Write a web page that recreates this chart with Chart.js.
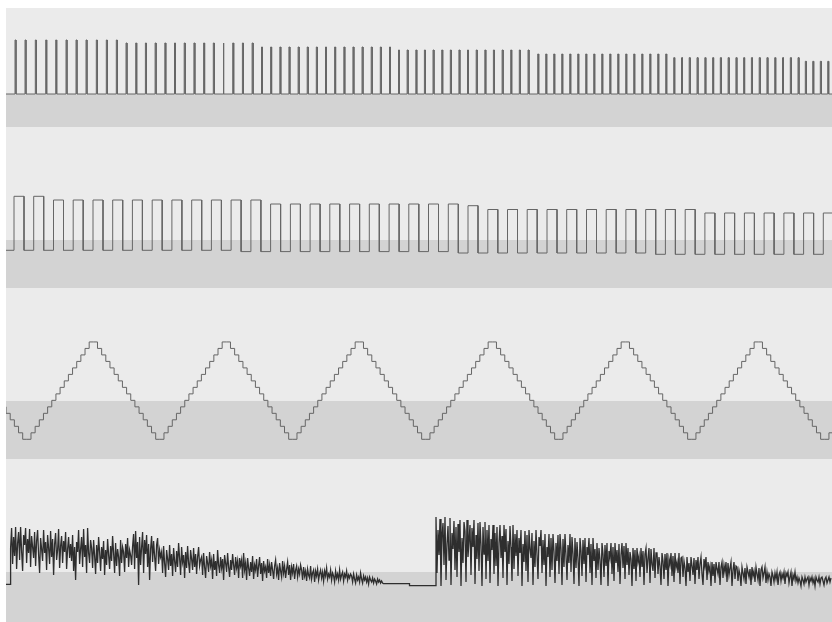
<!DOCTYPE html>
<html><head><meta charset="utf-8">
<script src="https://cdn.jsdelivr.net/npm/chart.js@4"></script>
<style>
html,body{margin:0;padding:0;background:#fff;}
#wrap{position:relative;width:832px;height:622px;overflow:hidden;background:#fff;}
#wrap canvas{position:absolute;left:6px;}
</style></head><body>
<div id="wrap">
<canvas id="c1" width="826" height="119" style="top:8px;width:826px;height:119px"></canvas>
<canvas id="c2" width="826" height="161" style="top:127px;width:826px;height:161px"></canvas>
<canvas id="c3" width="826" height="171" style="top:288px;width:826px;height:171px"></canvas>
<canvas id="c4" width="826" height="163" style="top:459px;width:826px;height:163px"></canvas>
</div>
<script>
// ---------- Lane 1: pulse train (pulse times and heights) ----------
const pulseTimes = [9,19,29.3,39.7,49.7,60,70,80,90.3,100.3,110.3,
 120,129.7,139.4,149.1,158.8,168.5,178.2,187.9,197.6,207.3,217,226.7,236.4,246.1,
 255.5,264.6,273.8,282.9,292.1,301.2,310.3,319.5,328.6,337.8,346.9,356,365.2,374.3,383.5,
 392.5,401.1,409.8,418.4,427,435.7,444.3,452.9,461.5,470.2,478.8,487.4,496.1,504.7,513.3,522,
 531.7,539.7,547.7,555.7,563.7,571.7,579.7,587.7,595.7,603.7,611.7,619.7,627.7,635.7,643.7,651.7,659.7,
 667.7,675.5,683.2,691,698.8,706.6,714.3,722.1,729.9,737.6,745.4,753.2,760.9,768.7,776.5,784.3,792,
 799.3,806.7,814.3,821.7];
const pulseHeights = [54,54,54,54,54,54,54,54,54,54,54,
 51,51,51,51,51,51,51,51,51,51,51,51,51,51,
 47,47,47,47,47,47,47,47,47,47,47,47,47,47,47,
 44,44,44,44,44,44,44,44,44,44,44,44,44,44,44,44,
 40,40,40,40,40,40,40,40,40,40,40,40,40,40,40,40,40,
 36.3,36.3,36.3,36.3,36.3,36.3,36.3,36.3,36.3,36.3,36.3,36.3,36.3,36.3,36.3,36.3,36.3,
 32.7,32.7,32.7,32.7];
const pulseWidth = 1;

// ---------- Lane 2: square wave (rise times, high and low levels per cycle) ----------
const sqRise = [8,27.7,47.5,67.2,87,106.7,126.4,146.2,165.9,185.7,205.4,225.1,244.9,264.6,284.4,304.1,
 323.8,343.6,363.3,383.1,402.8,422.5,442.3,462,481.8,501.5,521.2,541,560.7,580.5,600.2,619.9,639.7,
 659.4,679.2,698.9,718.6,738.4,758.1,777.9,797.6,817.3];
const sqHigh = [43.7,43.7,40,40,40,40,40,40,40,40,40,40,40,36,36,36,36,36,36,36,36,36,36,34.3,
 30.5,30.5,30.5,30.5,30.5,30.5,30.5,30.5,30.5,30.5,30.5,27,27,27,27,27,27,27];
const sqLow = [-10.3,-10.3,-10.3,-10.3,-10.3,-10.3,-10.3,-10.3,-10.3,-10.3,-10.3,
 -11.6,-11.6,-11.6,-11.6,-11.6,-11.6,-11.6,-11.6,-11.6,-11.6,-11.6,
 -13,-13,-13,-13,-13,-13,-13,-13,-13,-13,
 -14.3,-14.3,-14.3,-14.3,-14.3,-14.3,-14.3,-14.3,-14.3,-14.3];
const sqLead = -10.3;
const sqHighDuration = 10;

// ---------- Lane 3: stepped triangle (sample-and-hold levels) ----------
const triStart = -4.1;
const triSampleWidth = 4.156;
const triLevels = [5,4,3,2,1,
 0,0,1,2,3,4,5,6,7,8,9,10,11,12,13,14,15,15,14,13,12,11,10,9,8,7,6,5,4,3,2,1,
 0,0,1,2,3,4,5,6,7,8,9,10,11,12,13,14,15,15,14,13,12,11,10,9,8,7,6,5,4,3,2,1,
 0,0,1,2,3,4,5,6,7,8,9,10,11,12,13,14,15,15,14,13,12,11,10,9,8,7,6,5,4,3,2,1,
 0,0,1,2,3,4,5,6,7,8,9,10,11,12,13,14,15,15,14,13,12,11,10,9,8,7,6,5,4,3,2,1,
 0,0,1,2,3,4,5,6,7,8,9,10,11,12,13,14,15,15,14,13,12,11,10,9,8,7,6,5,4,3,2,1,
 0,0,1,2,3,4,5,6,7,8,9,10,11,12,13,14,15,15,14,13,12,11,10,9,8,7,6,5,4,3,2,1,
 0,0,1];

// ---------- Lane 4: noise bursts ----------
const noiseStep = 1;
const noiseAStart = 4.6;
const noiseA = [
 37,57,21,48,29,58,16,42,53,25,58,34,14,50,40,57,22,46,32,56,18,49,38,
 27,53,19,44,55,30,12,47,36,24,55,32,43,15,50,37,21,54,28,46,10,41,52,25,35,56,17,39,49,22,44,33,53,16,36,48,27,41,
 24,50,14,38,5,43,33,55,21,36,48,18,56,28,40,12,57,32,22,45,
 37,17,45,29,11,40,22,48,33,14,38,26,44,10,35,20,46,30,16,39,24,49,32,12,42,19,36,28,9,45,22,38,33,13,41,27,47,18,35,30,20,39,
 51,16,54,27,43,0,48,20,38,53,12,45,31,50,18,41,5,36,49,23,44,29,14,40,47,21,35,28,
 33,12,39,22,8,35,26,15,40,19,31,9,37,24,13,34,18,42,27,10,38,23,30,7,33,17,39,22,12,35,26,15,37,18,31,11,28,38,19,25,
 28,10,32,18,7,29,22,13,33,19,25,6,31,15,24,9,35,20,12,28,17,26,5,30,22,13,32,18,8,25,15,31,20,10,28,17,24,7,27,19,
 25,7,32,15,22,5,27,17,9,23,13,29,6,20,15,26,8,19,28,11,22,4,24,14,18,7,26,12,20,9,23,15,6,19,25,11,17,5,22,14,8,24,12,19,7,16,23,10,20,5,18,12,21,6,15,19,8,16,11,20,
 15,5,18,9,14,4,16,10,7,19,6,12,15,3,14,9,16,5,11,15,7,13,4,14,9,17,6,11,8,15,5,12,9,3,14,7,11,5,15,6,10,13,4,11,8,14,5,10,7,11,
 9,3,11,6,2,10,5,8,3,12,6,2,9,5,8,3,7,1,8,5,3,7,2,6,4,1,6,3,5,2,4,2];
const noiseBStart = 430;
const noiseB = [
 68,12,55,30,66,-1,48,62,20,68,5,41,59,25,67,0,52,36,64,15,58,
 8,61,33,65,-1,47,22,63,54,3,65,28,44,60,10,57,38,65,1,50,26,62,
 14,63,40,-1,58,31,63,6,
 55,24,60,2,46,35,60,11,52,19,58,-1,42,60,27,49,7,60,33,56,0,44,21,59,38,4,60,16,51,29,
 55,9,47,32,55,-1,41,23,54,14,50,3,55,36,27,52,0,44,18,55,30,6,48,39,55,12,
 45,20,51,-1,38,28,51,8,47,15,51,33,2,42,24,50,11,51,36,0,46,18,51,29,5,40,22,51,13,48,31,1,
 47,17,43,26,-1,47,34,9,45,21,47,3,38,30,47,12,41,0,47,24,36,7,
 42,15,37,25,0,42,31,8,40,19,42,-1,34,27,42,11,38,4,42,22,35,13,41,1,30,42,17,39,6,42,
 20,37,10,33,26,-1,37,16,35,4,37,23,29,8,37,18,34,0,31,37,12,27,37,2,36,21,14,37,7,32,
 32,11,28,19,0,32,24,6,31,15,32,-1,26,20,32,9,29,3,32,17,23,12,32,1,27,
 28,8,24,17,-1,28,13,22,4,28,19,10,27,1,25,15,28,6,21,28,11,0,26,18,28,
 5,23,14,19,-1,23,9,21,2,23,16,11,23,0,18,23,7,20,13,23,3,22,10,17,23,-1,15,23,6,19,
 18,4,15,10,-1,18,12,6,17,1,18,13,8,16,0,18,9,14,3,18,11,5,17,-1,15,18,7,12,18,2,
 13,5,11,8,-1,13,9,3,12,6,13,0,10,13,4,11,7,13,1,12,9,13,2,8,13,-1,10,6,13,4,
 8,2,7,4,-1,8,5,1,8,3,6,8,0,7,4,8,2,6,-1,8,5,3,8,1,7,8,4,0,6,8,2,5,8,3,7];
// flat stretches of the noise trace: from, to, level
const noiseFlatFrom = [0, 377.5, 403.5];
const noiseFlatTo = [4.6, 403.5, 430];
const noiseFlatLevel = [0.7, 1.3, -0.7];

// ---------- build point tables ----------
const X_MAX = 826;
function pulsePts(){
  const p=[{x:0,y:0}];
  pulseTimes.forEach((t,i)=>{p.push({x:t,y:0},{x:t,y:pulseHeights[i]},{x:t+pulseWidth,y:pulseHeights[i]},{x:t+pulseWidth,y:0});});
  p.push({x:X_MAX,y:0});
  return p;
}
function squarePts(){
  const p=[{x:0,y:sqLead}];
  let prev=sqLead;
  sqRise.forEach((t,k)=>{
    p.push({x:t,y:prev},{x:t,y:sqHigh[k]},{x:t+sqHighDuration,y:sqHigh[k]},{x:t+sqHighDuration,y:sqLow[k]});
    prev=sqLow[k];
  });
  return p;
}
function triPts(){
  const p=[];
  triLevels.forEach((v,i)=>p.push({x:triStart+i*triSampleWidth,y:v}));
  p.push({x:triStart+triLevels.length*triSampleWidth,y:triLevels[triLevels.length-1]});
  return p;
}
function noisePts(){
  const p=[];
  p.push({x:noiseFlatFrom[0],y:noiseFlatLevel[0]},{x:noiseFlatTo[0],y:noiseFlatLevel[0]});
  noiseA.forEach((v,i)=>p.push({x:noiseAStart+i*noiseStep,y:v}));
  for(let j=1;j<noiseFlatFrom.length;j++){
    p.push({x:noiseFlatFrom[j],y:noiseFlatLevel[j]},{x:noiseFlatTo[j],y:noiseFlatLevel[j]});
  }
  noiseB.forEach((v,i)=>p.push({x:noiseBStart+i*noiseStep,y:v}));
  return p;
}

const laneBg = {
  id:'laneBg',
  beforeDraw(chart,args,opts){
    const {ctx,chartArea:a,scales}=chart;
    const y=scales.y;
    ctx.save();
    ctx.fillStyle=opts.light;
    ctx.fillRect(a.left,a.top,a.right-a.left,a.bottom-a.top);
    const yb=y.getPixelForValue(opts.bandTop);
    ctx.fillStyle=opts.dark;
    ctx.fillRect(a.left,yb,a.right-a.left,a.bottom-yb);
    ctx.restore();
  }
};

const lanes=[
  {id:'c1',pts:pulsePts(),stepped:false,yMin:-33,yMax:86,bandTop:0,color:'#666666',width:1},
  {id:'c2',pts:squarePts(),stepped:false,yMin:-48,yMax:113,bandTop:0,color:'#666666',width:1},
  {id:'c3',pts:triPts(),stepped:true,yMin:-3.035,yMax:23.31,bandTop:5.9,color:'#666666',width:1},
  {id:'c4',pts:noisePts(),stepped:false,yMin:-37,yMax:126,bandTop:13,color:'#2e2e2e',width:1.3}
];

lanes.forEach(l=>{
  new Chart(document.getElementById(l.id),{
    type:'line',
    data:{datasets:[{data:l.pts,borderColor:l.color,borderWidth:l.width,pointRadius:0,tension:0,stepped:l.stepped,fill:false}]},
    options:{
      responsive:false,animation:false,devicePixelRatio:1,
      layout:{padding:0},
      scales:{
        x:{type:'linear',min:0,max:X_MAX,display:false},
        y:{type:'linear',min:l.yMin,max:l.yMax,display:false}
      },
      plugins:{legend:{display:false},tooltip:{enabled:false},
        laneBg:{light:'#ebebeb',dark:'#d3d3d3',bandTop:l.bandTop}}
    },
    plugins:[laneBg]
  });
});
</script>
</body></html>
